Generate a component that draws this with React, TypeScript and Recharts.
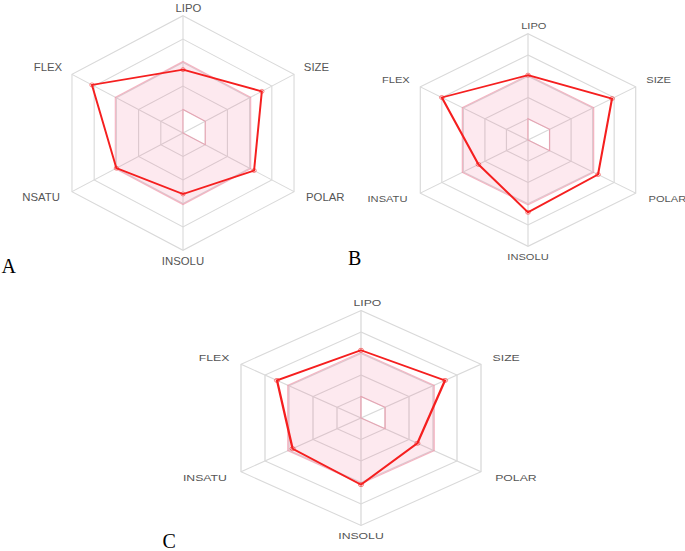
import React from 'react';
import { RadarChart, Radar, PolarGrid, PolarAngleAxis, PolarRadiusAxis } from 'recharts';

// ---- data ----
const AXES_A = ['LIPO', 'SIZE', 'POLAR', 'INSOLU', 'NSATU', 'FLEX'];
const AXES_BC = ['LIPO', 'SIZE', 'POLAR', 'INSOLU', 'INSATU', 'FLEX'];
const VALUES_A = [54, 71, 64, 52, 60, 82];
const VALUES_B = [61, 78, 65, 68, 46, 80];
const VALUES_C = [63, 70, 47, 62, 57, 70];
const PINK_OUTER = [61, 61, 61, 61, 61, 61];
const PINK_INNER = [20, 20, 20, 0, 0, 0];
const PANEL_LETTERS = ['A', 'B', 'C'];

const buildRows = (axes: string[], values: number[]) =>
  axes.map((axis, i) => ({ axis, value: values[i], outer: PINK_OUTER[i], inner: PINK_INNER[i] }));

const DATA_A = buildRows(AXES_A, VALUES_A);
const DATA_B = buildRows(AXES_BC, VALUES_B);
const DATA_C = buildRows(AXES_BC, VALUES_C);

// ---- style ----
const W = 320;
const H = 290;
const CX = 160;
const CY = 145;
const RED = '#f51f1f';
const GRID = '#d9d9d9';
const LABEL = '#555555';

const PinkZone = (props: any) => {
  const pts = props.points || [];
  if (!pts.length) return null;
  const cxv = pts[0].cx ?? CX;
  const cyv = pts[0].cy ?? CY;
  const outer = pts.map((p: any, i: number) => `${i ? 'L' : 'M'}${p.x},${p.y}`).join('') + 'Z';
  const inner =
    pts
      .map((p: any, i: number) => {
        const k = p.payload.inner / p.payload.outer;
        return `${i ? 'L' : 'M'}${cxv + (p.x - cxv) * k},${cyv + (p.y - cyv) * k}`;
      })
      .join('') + 'Z';
  return (
    <path
      d={outer + inner}
      fillRule="evenodd"
      fill="#f2608f"
      fillOpacity={0.14}
      stroke="#ee7f98"
      strokeOpacity={0.55}
      strokeWidth={1}
    />
  );
};

const makeTick = (R: number, fontSize: number) => (props: any) => {
  const { x, y, payload } = props;
  const cx = props.cx ?? CX;
  const cy = props.cy ?? CY;
  const dx = x - cx;
  const dy = y - cy;
  const len = Math.hypot(dx, dy) || 1;
  const ux = dx / len;
  const uy = dy / len;
  const vx = cx + ux * R;
  const vy = cy + uy * R;
  let tx = vx;
  let ty = vy;
  let anchor: 'start' | 'middle' | 'end' = 'middle';
  if (Math.abs(ux) < 0.1) {
    if (uy < 0) {
      tx = vx + 5;
      ty = vy - 8;
    } else {
      ty = vy + 10.5;
    }
  } else {
    anchor = ux > 0 ? 'start' : 'end';
    tx = vx + (ux > 0 ? 1 : -1) * (uy > 0 ? 11 : 9);
    ty = vy + (uy > 0 ? 5.5 : -7);
  }
  return (
    <text
      x={tx}
      y={ty}
      textAnchor={anchor}
      dominantBaseline="central"
      fontSize={fontSize}
      fill={LABEL}
      fontFamily="'Liberation Sans', Arial, sans-serif"
    >
      {payload.value}
    </text>
  );
};

type PanelProps = { data: any[]; X: number; Y: number; R: number; sx: number; fontSize: number };

const Panel = ({ data, X, Y, R, sx, fontSize }: PanelProps) => (
  <div
    style={{
      position: 'absolute',
      left: X - CX,
      top: Y - CY,
      width: W,
      height: H,
      transform: `scaleX(${sx})`,
      transformOrigin: `${CX}px ${CY}px`,
    }}
  >
    <RadarChart
      width={W}
      height={H}
      data={data}
      cx={CX}
      cy={CY}
      outerRadius={R}
      margin={{ top: 0, right: 0, bottom: 0, left: 0 }}
    >
      <PolarGrid gridType="polygon" stroke={GRID} strokeWidth={1} />
      <PolarAngleAxis dataKey="axis" tick={makeTick(R, fontSize)} tickLine={false} axisLine={false} />
      <PolarRadiusAxis domain={[0, 100]} tickCount={6} tick={false} axisLine={false} />
      <Radar dataKey="outer" isAnimationActive={false} shape={<PinkZone />} />
      <Radar
        dataKey="value"
        stroke={RED}
        strokeWidth={1.8}
        fill="none"
        fillOpacity={0}
        dot={{ r: 2, fill: RED, stroke: RED, strokeWidth: 0.5 }}
        isAnimationActive={false}
      />
    </RadarChart>
  </div>
);

export default function App() {
  return (
    <div style={{ position: 'absolute', left: 0, top: 0, width: 685, height: 551, background: '#fff', overflow: 'hidden' }}>
      <Panel data={DATA_A} X={183.3} Y={133.3} R={117.3} sx={1.093} fontSize={10.4} />
      <Panel data={DATA_B} X={527.5} Y={140.3} R={106.3} sx={1.17} fontSize={9.5} />
      <Panel data={DATA_C} X={360.7} Y={417.5} R={107.5} sx={1.289} fontSize={9.5} />
      <svg width={685} height={551} style={{ position: 'absolute', left: 0, top: 0, pointerEvents: 'none' }}>
        <text x={1.5} y={272.5} fontSize={20} fontFamily="'Liberation Serif', 'Times New Roman', serif" fill="#000">
          {PANEL_LETTERS[0]}
        </text>
        <text x={348} y={265} fontSize={20} fontFamily="'Liberation Serif', 'Times New Roman', serif" fill="#000">
          {PANEL_LETTERS[1]}
        </text>
        <text x={162.5} y={548} fontSize={20} fontFamily="'Liberation Serif', 'Times New Roman', serif" fill="#000">
          {PANEL_LETTERS[2]}
        </text>
      </svg>
    </div>
  );
}
